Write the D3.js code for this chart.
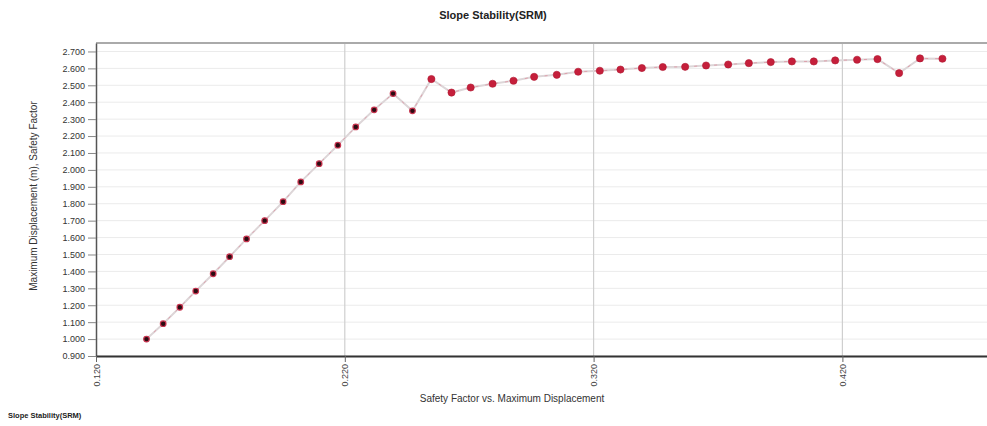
<!DOCTYPE html>
<html>
<head>
<meta charset="utf-8">
<script src="https://cdn.jsdelivr.net/npm/d3@7"></script>
<style>
  body { margin: 0; background: #fff; }
  svg { display: block; font-family: "Liberation Sans", Arial, sans-serif; }
</style>
</head>
<body>
<svg id="chart"></svg>
<script>
// displacement (x) and safety factor (y)
const displacement = [
  0.1403, 0.1470, 0.1537, 0.1601, 0.1671, 0.1737, 0.1805, 0.1878, 0.1952, 0.2023,
  0.2097, 0.2172, 0.2244, 0.2318, 0.2394, 0.2472, 0.2548, 0.2629, 0.2706, 0.2794,
  0.2878, 0.2961, 0.3052, 0.3138, 0.3225, 0.3308, 0.3394, 0.3478, 0.3568, 0.3652,
  0.3741, 0.3824, 0.3912, 0.3997, 0.4085, 0.4171, 0.4259, 0.4341, 0.4428, 0.4512,
  0.4602
];
const safetyFactor = [
  1.000, 1.091, 1.188, 1.284, 1.386, 1.487, 1.592, 1.700, 1.812, 1.929,
  2.037, 2.146, 2.254, 2.355, 2.451, 2.349, 2.537, 2.457, 2.487, 2.509,
  2.527, 2.550, 2.562, 2.580, 2.586, 2.593, 2.602, 2.608, 2.609, 2.617,
  2.623, 2.631, 2.637, 2.641, 2.641, 2.647, 2.651, 2.655, 2.572, 2.659,
  2.657
];
const xTicks = [0.12, 0.22, 0.32, 0.42];
const yTicks = d3.range(9, 28).map(d => d / 10);

const chartTitle = "Slope Stability(SRM)";
const xTitle = "Safety Factor vs. Maximum Displacement";
const yTitle = "Maximum Displacement (m), Safety Factor";

const width = 987, height = 426;
const margin = { top: 43, right: -5, bottom: 70, left: 96 };

const svg = d3.select("#chart").attr("width", width).attr("height", height);

const x = d3.scaleLinear()
  .domain([0.12, 0.48])
  .range([margin.left, margin.left + 0.36 * 2488]);
const y = d3.scaleLinear()
  .domain([0.9, 2.75])
  .range([height - margin.bottom, margin.top]);

const data = displacement.map((d, i) => ({ x: d, y: safetyFactor[i], i: i }));

// horizontal grid
svg.append("g")
  .selectAll("line")
  .data(yTicks)
  .enter().append("line")
  .attr("x1", x(0.12)).attr("x2", width)
  .attr("y1", d => y(d)).attr("y2", d => y(d))
  .attr("stroke", "#ebebeb")
  .attr("stroke-width", 1);

// vertical grid
svg.append("g")
  .selectAll("line")
  .data(xTicks.slice(1))
  .enter().append("line")
  .attr("x1", d => x(d)).attr("x2", d => x(d))
  .attr("y1", y(2.75)).attr("y2", y(0.9))
  .attr("stroke", "#cfcfcf")
  .attr("stroke-width", 1.2);

// top frame line
svg.append("line")
  .attr("x1", x(0.12)).attr("x2", width)
  .attr("y1", y(2.75)).attr("y2", y(2.75))
  .attr("stroke", "#aaa")
  .attr("stroke-width", 2);

// y axis
const yAxis = svg.append("g")
  .attr("transform", "translate(" + x(0.12) + ",0)")
  .call(d3.axisLeft(y).tickValues(yTicks).tickFormat(d3.format(".3f")).tickSize(8).tickSizeOuter(0));
yAxis.select(".domain").attr("stroke", "#555").attr("stroke-width", 1.5);
yAxis.selectAll(".tick line").attr("stroke", "#888");
yAxis.selectAll(".tick text")
  .attr("font-size", 9)
  .attr("fill", "#333")
  .attr("x", -11);

// x axis
const xAxis = svg.append("g")
  .attr("transform", "translate(0," + y(0.9) + ")")
  .call(d3.axisBottom(x).tickValues(xTicks).tickFormat(d3.format(".3f")).tickSize(6).tickSizeOuter(0));
xAxis.select(".domain").attr("stroke", "#333").attr("stroke-width", 2);
xAxis.selectAll(".tick line").attr("stroke", "#666");
xAxis.selectAll(".tick text")
  .attr("font-size", 9)
  .attr("fill", "#444")
  .attr("transform", "rotate(-90)")
  .attr("text-anchor", "end")
  .attr("x", -8)
  .attr("y", 0)
  .attr("dy", "0.35em");

// connecting line
const line = d3.line()
  .x(d => x(d.x))
  .y(d => y(d.y));

svg.append("path")
  .datum(data)
  .attr("d", line)
  .attr("fill", "none")
  .attr("stroke", "#ddd6d8")
  .attr("stroke-width", 2);

svg.append("path")
  .datum(data)
  .attr("d", line)
  .attr("fill", "none")
  .attr("stroke", "#e06a80")
  .attr("stroke-width", 1)
  .attr("stroke-dasharray", "3,7")
  .attr("opacity", 0.5);

// points
svg.append("g")
  .selectAll("circle")
  .data(data)
  .enter().append("circle")
  .attr("cx", d => x(d.x))
  .attr("cy", d => y(d.y))
  .attr("r", d => d.i < 16 ? 2.8 : 3.6)
  .attr("fill", d => d.i < 16 ? "#2b0b12" : "#c51f3b")
  .attr("stroke", d => d.i < 16 ? "#c8344f" : "#b01830")
  .attr("stroke-width", d => d.i < 16 ? 1.2 : 0.6);

// titles
svg.append("text")
  .attr("x", 493).attr("y", 19)
  .attr("text-anchor", "middle")
  .attr("font-size", 11)
  .attr("font-weight", "bold")
  .attr("fill", "#222")
  .text(chartTitle);

svg.append("text")
  .attr("x", 512).attr("y", 402)
  .attr("text-anchor", "middle")
  .attr("font-size", 10)
  .attr("fill", "#333")
  .text(xTitle);

svg.append("text")
  .attr("transform", "translate(37,196) rotate(-90)")
  .attr("text-anchor", "middle")
  .attr("font-size", 10)
  .attr("fill", "#333")
  .text(yTitle);

svg.append("text")
  .attr("x", 8).attr("y", 418)
  .attr("font-size", 7.5)
  .attr("font-weight", "bold")
  .attr("fill", "#222")
  .text(chartTitle);
</script>
</body>
</html>
